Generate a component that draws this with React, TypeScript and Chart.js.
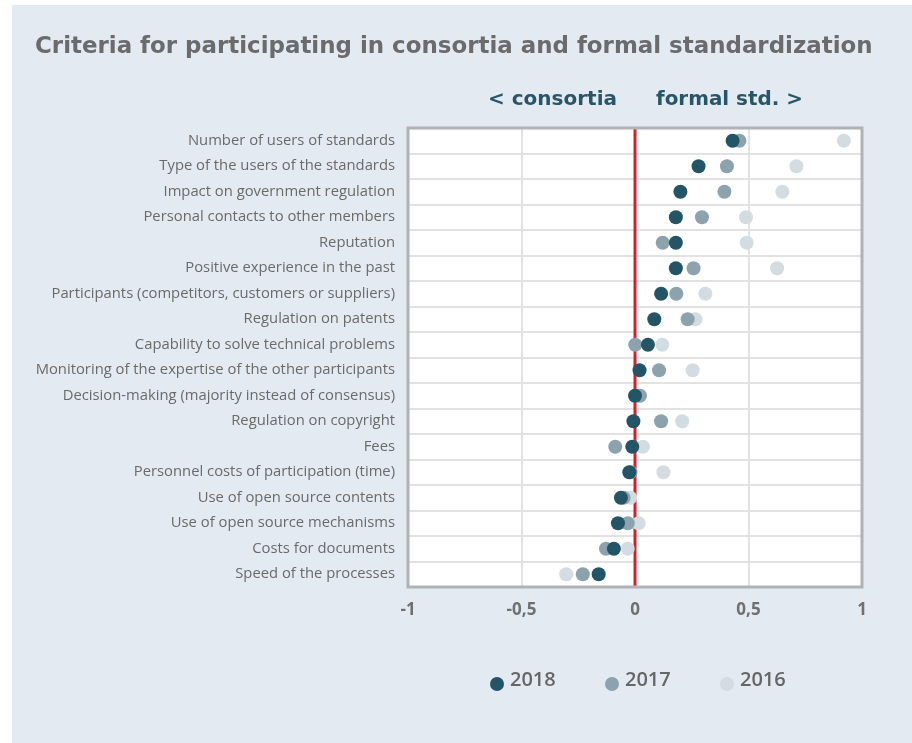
import React, { useEffect, useRef } from "react";
import { Chart, registerables } from "chart.js";

Chart.register(...registerables);

const title = "Criteria for participating in consortia and formal standardization";
const leftNote = "< consortia";
const rightNote = "formal std. >";

const categories = [
  "Number of users of standards",
  "Type of the users of the standards",
  "Impact on government regulation",
  "Personal contacts to other members",
  "Reputation",
  "Positive experience in the past",
  "Participants (competitors, customers or suppliers)",
  "Regulation on patents",
  "Capability to solve technical problems",
  "Monitoring of the expertise of the other participants",
  "Decision-making (majority instead of consensus)",
  "Regulation on copyright",
  "Fees",
  "Personnel costs of participation (time)",
  "Use of open source contents",
  "Use of open source mechanisms",
  "Costs for documents",
  "Speed of the processes",
];

const values2018 = [0.43, 0.28, 0.2, 0.18, 0.18, 0.18, 0.115, 0.085, 0.057, 0.02, 0.0, -0.007, -0.012, -0.025, -0.062, -0.075, -0.093, -0.16];
const values2017 = [0.46, 0.405, 0.394, 0.295, 0.122, 0.258, 0.182, 0.232, 0.001, 0.106, 0.022, 0.115, -0.087, -0.02, -0.05, -0.032, -0.128, -0.23];
const values2016 = [0.92, 0.711, 0.649, 0.489, 0.492, 0.626, 0.31, 0.266, 0.12, 0.254, 0.015, 0.208, 0.035, 0.125, -0.021, 0.016, -0.032, -0.303];

const seriesNames = ["2018", "2017", "2016"];
const seriesColors = ["#245566", "#8ca3ad", "#d2dce1"];
const xTicks = [-1, -0.5, 0, 0.5, 1];

const FONT = "'Open Sans', sans-serif";
const WIDE = "'DejaVu Sans', sans-serif";

function fitFont(ctx: CanvasRenderingContext2D, text: string, weight: string, family: string, target: number) {
  ctx.font = `${weight} 20px ${family}`;
  const w = ctx.measureText(text).width;
  const size = (20 * target) / w;
  return `${weight} ${size.toFixed(2)}px ${family}`;
}

const decorPlugin = {
  id: "decor",
  beforeDraw(chart: any) {
    const { ctx, chartArea } = chart;
    ctx.save();
    ctx.fillStyle = "#ffffff";
    ctx.fillRect(chartArea.left, chartArea.top, chartArea.right - chartArea.left, chartArea.bottom - chartArea.top);
    ctx.restore();
  },
  beforeDatasetsDraw(chart: any) {
    const { ctx, chartArea, scales } = chart;
    const x0 = scales.x.getPixelForValue(0);
    ctx.save();
    ctx.strokeStyle = "#cc2229";
    ctx.lineWidth = 3;
    ctx.beginPath();
    ctx.moveTo(x0, chartArea.top);
    ctx.lineTo(x0, chartArea.bottom);
    ctx.stroke();
    ctx.strokeStyle = "#b0b2b5";
    ctx.lineWidth = 3;
    ctx.strokeRect(chartArea.left, chartArea.top, chartArea.right - chartArea.left, chartArea.bottom - chartArea.top);
    ctx.restore();
  },
  afterDraw(chart: any) {
    const { ctx, scales } = chart;
    const x0 = scales.x.getPixelForValue(0);
    ctx.save();
    // title
    ctx.fillStyle = "#6b6b6b";
    ctx.font = fitFont(ctx, title, "bold", WIDE, 838);
    ctx.textBaseline = "middle";
    ctx.textAlign = "left";
    ctx.fillText(title, 23, 42);
    // notes
    ctx.fillStyle = "#275668";
    ctx.font = fitFont(ctx, leftNote, "bold", WIDE, 129);
    ctx.textAlign = "right";
    ctx.fillText(leftNote, x0 - 18, 95);
    ctx.font = fitFont(ctx, rightNote, "bold", WIDE, 147);
    ctx.textAlign = "left";
    ctx.fillText(rightNote, x0 + 21, 95);
    // legend
    const lx = [485, 600, 715];
    seriesNames.forEach((name, i) => {
      ctx.fillStyle = seriesColors[i];
      ctx.beginPath();
      ctx.arc(lx[i], 679, 7, 0, Math.PI * 2);
      ctx.fill();
      ctx.fillStyle = "#666666";
      ctx.font = `600 20px ${FONT}`;
      ctx.textAlign = "left";
      ctx.textBaseline = "middle";
      ctx.fillText(name, lx[i] + 13, 675);
    });
    ctx.restore();
  },
};

export default function App() {
  const ref = useRef<HTMLCanvasElement>(null);
  useEffect(() => {
    if (!ref.current) return;
    const chart = new Chart(ref.current, {
      type: "line",
      data: {
        labels: categories,
        datasets: [values2018, values2017, values2016].map((vals, i) => ({
          label: seriesNames[i],
          data: vals,
          showLine: false,
          pointRadius: 7,
          pointHoverRadius: 7,
          pointBorderWidth: 0,
          pointBackgroundColor: seriesColors[i],
          pointBorderColor: seriesColors[i],
          backgroundColor: seriesColors[i],
          borderColor: seriesColors[i],
        })),
      },
      options: {
        indexAxis: "y",
        animation: false,
        responsive: false,
        maintainAspectRatio: false,
        layout: { padding: { top: 123, right: 50, bottom: 116, left: 0 } },
        plugins: {
          legend: { display: false },
          title: { display: false },
          tooltip: { enabled: false },
        },
        scales: {
          x: {
            type: "linear",
            min: -1,
            max: 1,
            afterBuildTicks(scale: any) {
              scale.ticks = xTicks.map((v) => ({ value: v }));
            },
            afterFit(scale: any) {
              scale.height = 40;
            },
            grid: { color: "#e2e2e2", lineWidth: 2, drawTicks: false },
            border: { display: false },
            ticks: {
              padding: 13,
              color: "#707070",
              font: { family: FONT, size: 17, weight: "bold" },
              callback: (v: any) => String(v).replace(".", ","),
            },
          },
          y: {
            type: "category",
            offset: true,
            afterFit(scale: any) {
              scale.width = 396;
            },
            grid: { color: "#e2e2e2", lineWidth: 2, drawTicks: false, offset: true },
            border: { display: false },
            ticks: {
              padding: 13,
              color: "#6a6a6a",
              font: { family: FONT, size: 14.8 },
            },
          },
        },
      } as any,
      plugins: [decorPlugin],
    });
    return () => chart.destroy();
  }, []);
  return (
    <div
      style={{
        position: "absolute",
        left: 12,
        top: 5,
        width: 900,
        height: 738,
        background: "#e4eaf2",
      }}
    >
      <canvas ref={ref} width={900} height={738} style={{ width: 900, height: 738, display: "block" }} />
    </div>
  );
}
